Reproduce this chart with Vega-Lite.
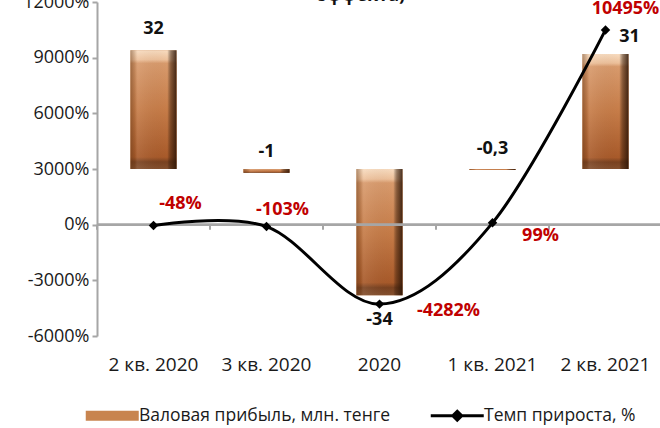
{
  "$schema": "https://vega.github.io/schema/vega-lite/v6.json",
  "autosize": {"type": "none"},
  "padding": {"left": 97, "top": 2, "right": 0, "bottom": 92},
  "width": 565,
  "height": 334,
  "background": "white",
  "config": {
    "font": "Open Sans",
    "view": {"stroke": null},
    "axis": {"labelFont": "Open Sans", "labelFontSize": 18, "labelColor": "#1a1a1a", "grid": false},
    "legend": {"labelFont": "Open Sans", "labelFontSize": 17.5, "labelColor": "#1a1a1a", "padding": 0, "labelLimit": 400}
  },
  "title": {
    "text": "эффекта)",
    "anchor": "middle",
    "orient": "top",
    "offset": 0,
    "dx": -18,
    "dy": 12,
    "fontSize": 18,
    "fontWeight": "bold",
    "font": "Open Sans",
    "color": "#111111"
  },
  "data": {
    "values": [
      {"period": "2 кв. 2020", "profit": 32, "profitLabel": "32", "growth": -48, "growthLabel": "-48%"},
      {"period": "3 кв. 2020", "profit": -1, "profitLabel": "-1", "growth": -103, "growthLabel": "-103%"},
      {"period": "2020", "profit": -34, "profitLabel": "-34", "growth": -4282, "growthLabel": "-4282%"},
      {"period": "1 кв. 2021", "profit": -0.3, "profitLabel": "-0,3", "growth": 99, "growthLabel": "99%"},
      {"period": "2 кв. 2021", "profit": 31, "profitLabel": "31", "growth": 10495, "growthLabel": "10495%"}
    ]
  },
  "resolve": {"scale": {"y": "independent"}, "axis": {"x": "independent", "y": "independent"}},
  "layer": [
    {
      "encoding": {
        "x": {
          "field": "period", "type": "nominal",
          "sort": ["2 кв. 2020", "3 кв. 2020", "2020", "1 кв. 2021", "2 кв. 2021"],
          "scale": {"paddingInner": 0, "paddingOuter": 0},
          "axis": {"title": null, "labelAngle": 0, "domain": false, "ticks": false, "labelPadding": 19, "labelFontSize": 19}
        },
        "y": {"field": "profit", "type": "quantitative", "scale": {"domain": [-45, 45], "nice": false, "zero": false}, "axis": null}
      },
      "layer": [
        {
          "mark": {"type": "bar", "size": 46},
          "encoding": {
            "y2": {"datum": 0},
            "fill": {
              "datum": "Валовая прибыль, млн. тенге",
              "scale": {"range": ["#C8844F"]},
              "legend": {
                "title": null,
                "orient": "none",
                "legendX": 6.5,
                "legendY": 405,
                "symbolType": "M-5.3,-1H5.3V1H-5.3Z",
                "symbolSize": 100,
                "symbolStrokeWidth": 0,
                "labelOffset": 18,
                "encode": {
                  "symbols": {"update": {"fill": {"value": {"gradient": "linear", "x1": 0, "y1": 0, "x2": 0, "y2": 1, "stops": [{"offset": 0, "color": "#F0C9A2"}, {"offset": 0.5, "color": "#C8844F"}, {"offset": 1, "color": "#6A3818"}]}}, "strokeWidth": {"value": 0}}}
                }
              }
            }
          }
        },
        {
          "mark": {
            "type": "bar", "size": 46,
            "color": {"gradient": "linear", "x1": 0, "y1": 0, "x2": 0, "y2": 1,
              "stops": [
                {"offset": 0, "color": "#F8DCC0"},
                {"offset": 0.08, "color": "#EDC09A"},
                {"offset": 0.11, "color": "#D89A6C"},
                {"offset": 0.5, "color": "#C67C48"},
                {"offset": 0.9, "color": "#A85A2A"},
                {"offset": 0.94, "color": "#7A4220"},
                {"offset": 1, "color": "#84502E"}
              ]}
          },
          "encoding": {"y2": {"datum": 0}}
        },
        {
          "mark": {
            "type": "bar", "size": 46,
            "color": {"gradient": "linear", "x1": 0, "y1": 0, "x2": 1, "y2": 0,
              "stops": [
                {"offset": 0, "color": "rgba(90,50,20,0.45)"},
                {"offset": 0.1, "color": "rgba(90,50,20,0.15)"},
                {"offset": 0.16, "color": "rgba(255,255,255,0.08)"},
                {"offset": 0.8, "color": "rgba(0,0,0,0)"},
                {"offset": 0.88, "color": "rgba(50,25,8,0.5)"},
                {"offset": 1, "color": "rgba(40,18,5,0.85)"}
              ]}
          },
          "encoding": {"y2": {"datum": 0}}
        },
        {
          "transform": [{"filter": "datum.profit > -20 && datum.period != '2 кв. 2021'"}],
          "mark": {"type": "text", "font": "Open Sans", "fontSize": 18, "fontWeight": "bold", "color": "#111111", "baseline": "middle", "dy": -21},
          "encoding": {"text": {"field": "profitLabel"}}
        },
        {
          "transform": [{"filter": "datum.profit < -20"}],
          "mark": {"type": "text", "font": "Open Sans", "fontSize": 18, "fontWeight": "bold", "color": "#111111", "baseline": "middle", "dy": 25},
          "encoding": {"text": {"field": "profitLabel"}}
        },
        {
          "transform": [{"filter": "datum.period == '2 кв. 2021'"}],
          "mark": {"type": "text", "font": "Open Sans", "fontSize": 18, "fontWeight": "bold", "color": "#111111", "baseline": "middle", "dx": 24, "dy": -17},
          "encoding": {"text": {"field": "profitLabel"}}
        }
      ]
    },
    {
      "encoding": {
        "y": {"datum": 0, "type": "quantitative", "scale": {"domain": [-6000, 12000], "nice": false, "zero": false}, "axis": null}
      },
      "layer": [
        {
          "mark": {"type": "rule", "color": "#A6A6A6", "strokeWidth": 2},
          "encoding": {}
        },
        {
          "mark": {"type": "rule", "color": "#A6A6A6", "strokeWidth": 2},
          "encoding": {
            "x": {
              "field": "period", "type": "nominal", "bandPosition": 0,
              "sort": ["2 кв. 2020", "3 кв. 2020", "2020", "1 кв. 2021", "2 кв. 2021"],
              "axis": null
            },
            "y2": {"datum": -270}
          }
        }
      ]
    },
    {
      "encoding": {
        "x": {
          "field": "period", "type": "nominal",
          "sort": ["2 кв. 2020", "3 кв. 2020", "2020", "1 кв. 2021", "2 кв. 2021"],
          "axis": null
        },
        "y": {
          "field": "growth", "type": "quantitative",
          "scale": {"domain": [-6000, 12000], "nice": false, "zero": false},
          "axis": {"title": null, "values": [-6000, -3000, 0, 3000, 6000, 9000, 12000], "labelExpr": "datum.value + '%'", "domainColor": "#A6A6A6", "domainWidth": 2, "tickColor": "#A6A6A6", "tickWidth": 2, "tickSize": 5, "labelPadding": 3}
        }
      },
      "layer": [
        {
          "mark": {"type": "line", "interpolate": "cardinal", "strokeWidth": 3},
          "encoding": {
            "stroke": {
              "datum": "Темп прироста, %",
              "scale": {"range": ["#000000"]},
              "legend": {
                "title": null,
                "orient": "none",
                "legendX": 351.5,
                "legendY": 405,
                "symbolType": "M-5.3,0H5.3M0,-0.9L0.9,0L0,0.9L-0.9,0Z",
                "symbolSize": 100,
                "symbolStrokeWidth": 3,
                "symbolFillColor": "#000000",
                "labelOffset": 18,
                "encode": {"symbols": {"update": {"fill": {"value": "#000000"}, "stroke": {"value": "#000000"}, "strokeWidth": {"value": 3}}}}
              }
            }
          }
        },
        {
          "mark": {"type": "point", "shape": "diamond", "filled": true, "size": 90, "color": "#000000", "opacity": 1}
        },
        {
          "transform": [{"filter": "datum.period == '2 кв. 2020'"}],
          "mark": {"type": "text", "font": "Open Sans", "fontSize": 18, "fontWeight": "bold", "color": "#C00000", "baseline": "middle", "dx": 27, "dy": -22},
          "encoding": {"text": {"field": "growthLabel"}}
        },
        {
          "transform": [{"filter": "datum.period == '3 кв. 2020'"}],
          "mark": {"type": "text", "font": "Open Sans", "fontSize": 18, "fontWeight": "bold", "color": "#C00000", "baseline": "middle", "dx": 16, "dy": -17},
          "encoding": {"text": {"field": "growthLabel"}}
        },
        {
          "transform": [{"filter": "datum.period == '2020'"}],
          "mark": {"type": "text", "font": "Open Sans", "fontSize": 18, "fontWeight": "bold", "color": "#C00000", "baseline": "middle", "dx": 69, "dy": 7},
          "encoding": {"text": {"field": "growthLabel"}}
        },
        {
          "transform": [{"filter": "datum.period == '1 кв. 2021'"}],
          "mark": {"type": "text", "font": "Open Sans", "fontSize": 18, "fontWeight": "bold", "color": "#C00000", "baseline": "middle", "dx": 48, "dy": 13},
          "encoding": {"text": {"field": "growthLabel"}}
        },
        {
          "transform": [{"filter": "datum.period == '2 кв. 2021'"}],
          "mark": {"type": "text", "font": "Open Sans", "fontSize": 18, "fontWeight": "bold", "color": "#C00000", "baseline": "middle", "dx": 20, "dy": -21},
          "encoding": {"text": {"field": "growthLabel"}}
        }
      ]
    }
  ]
}
